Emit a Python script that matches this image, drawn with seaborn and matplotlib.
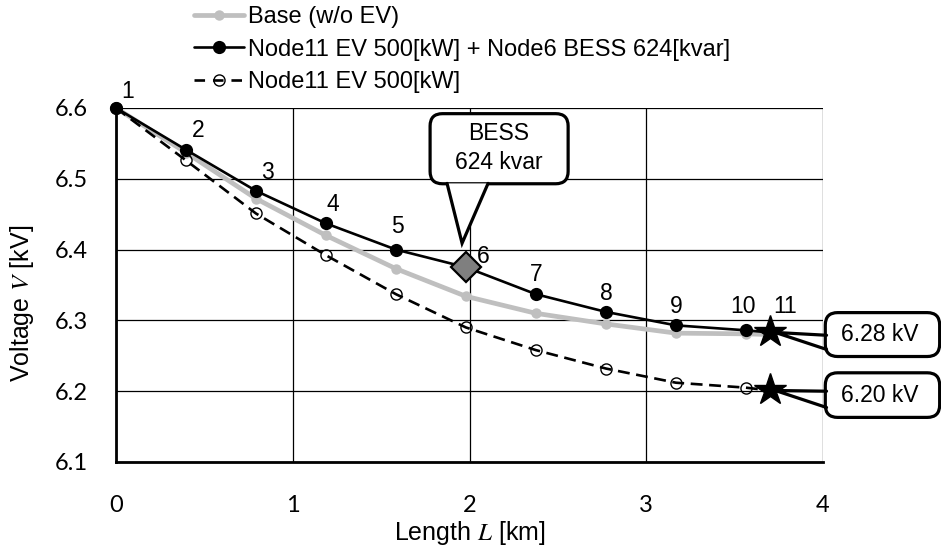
import matplotlib
matplotlib.use("Agg")
import matplotlib.pyplot as plt
import seaborn as sns
import numpy as np
from matplotlib.lines import Line2D
from matplotlib.patches import FancyBboxPatch, Polygon

# ---- data ----
node_ids = ["1", "2", "3", "4", "5", "6", "7", "8", "9", "10", "11"]
length_km = [0.0, 0.396, 0.792, 1.188, 1.584, 1.98, 2.376, 2.772, 3.168, 3.564, 3.70]
v_base = [6.600, 6.537, 6.472, 6.420, 6.373, 6.334, 6.310, 6.295, 6.282, 6.281, 6.280]
v_bess = [6.600, 6.541, 6.483, 6.437, 6.400, 6.375, 6.337, 6.312, 6.293, 6.286, 6.283]
v_ev = [6.600, 6.526, 6.451, 6.392, 6.337, 6.290, 6.258, 6.232, 6.212, 6.205, 6.201]
series_labels = ["Base (w/o EV)", "Node11 EV 500[kW] + Node6 BESS 624[kvar]", "Node11 EV 500[kW]"]
bess_node = 5
ev_node = 10
x_ticks = [0, 1, 2, 3, 4]
y_ticks = [6.1, 6.2, 6.3, 6.4, 6.5, 6.6]
callout_bess = "BESS\n624 kvar"
callout_v1 = "6.28 kV"
callout_v2 = "6.20 kV"

sns.set_style("white")
plt.rcParams["font.family"] = ["Liberation Sans", "DejaVu Sans"]
plt.rcParams["mathtext.fontset"] = "stix"
for k in ["text.color", "axes.labelcolor", "xtick.color", "ytick.color"]:
    plt.rcParams[k] = "black"

W, H = 941, 549
fig = plt.figure(figsize=(W / 100, H / 100), dpi=100)
L, R, T, B = 116, 823, 108, 462
ax = fig.add_axes([L / W, 1 - B / H, (R - L) / W, (B - T) / H])

n = len(length_km)
circ_idx = [i for i in range(n) if i not in (ev_node,)]
bess_circ_idx = [i for i in range(n) if i not in (ev_node, bess_node)]

DASH = (0, (4.5, 2.5))
FS = 16.5

sns.lineplot(x=length_km, y=v_base, ax=ax, color="#bfbfbf", lw=3.4,
             marker="o", markersize=7.5, markeredgewidth=0, markevery=circ_idx,
             zorder=3, clip_on=False)
sns.lineplot(x=length_km, y=v_ev, ax=ax, color="black", lw=1.9, ls=DASH,
             marker="o", markersize=8, mfc="none", mec="black", markeredgewidth=1.0,
             markevery=circ_idx, zorder=4, clip_on=False)
sns.lineplot(x=length_km, y=v_bess, ax=ax, color="black", lw=1.9,
             marker="o", markersize=9.5, markeredgewidth=0, markevery=bess_circ_idx,
             zorder=5, clip_on=False)
# BESS diamond at node 6
ax.plot([length_km[bess_node]], [v_bess[bess_node]], marker="D", markersize=15,
        mfc="#7f7f7f", mec="black", mew=1.6, ls="none", zorder=6)
# stars at node 11
ax.plot([length_km[ev_node]] * 2, [v_bess[ev_node], v_ev[ev_node]], marker="*",
        markersize=24, color="black", ls="none", zorder=7, clip_on=False)

ax.set_xlim(0, 4)
ax.set_ylim(6.1, 6.6)
ax.set_xticks(x_ticks)
ax.set_yticks(y_ticks)
ax.set_xticklabels([str(t) for t in x_ticks], fontfamily="Lato", fontsize=17)
ax.set_yticklabels([f"{t:.1f}" for t in y_ticks], fontfamily="Lato", fontsize=17)
ax.tick_params(axis="y", length=0, pad=20, labelcolor="black")
ax.tick_params(axis="x", length=0, pad=24, labelcolor="black")
ax.grid(True, color="black", lw=0.9)
for s in ["top", "right"]:
    ax.spines[s].set_visible(False)
for s in ["left", "bottom"]:
    ax.spines[s].set_color("black")
    ax.spines[s].set_linewidth(2)
    ax.spines[s].set_zorder(2.5)

ax.set_xlabel(r"Length $L$ [km]", fontsize=18, color="black")
ax.set_ylabel(r"Voltage $V$ [kV]", fontsize=18, color="black")
ax.xaxis.set_label_coords((470 - L) / (R - L), -(519 - B) / (B - T))
ax.yaxis.set_label_coords(-(L - 36) / (R - L), (B - 303) / (B - T))

# node number labels (offsets in pixels relative to upper series points)
offsets = [(12, 16), (12, 19), (11, 18), (7, 19), (1, 23), (17, 11), (0, 20),
           (0, 18), (0, 19), (-3, 24), (15, 26)]
for i, lab in enumerate(node_ids):
    ax.annotate(lab, (length_km[i], v_bess[i]), xytext=offsets[i],
                textcoords="offset pixels", ha="center", va="center",
                fontsize=FS, zorder=8, annotation_clip=False, color="black")

asp = (1 / 708) / (1 / 176.75)

def rbox(x0, y0, x1, y1):
    p = FancyBboxPatch((x0, y0), x1 - x0, y1 - y0,
                       boxstyle="round,pad=0,rounding_size=0.07",
                       mutation_aspect=asp, fc="white", ec="black", lw=2.3,
                       zorder=9, clip_on=False, transform=ax.transData)
    ax.add_patch(p)

# BESS callout
rbox(1.777, 6.493, 2.558, 6.592)
tri = Polygon([(1.873, 6.4935), (1.958, 6.409), (2.105, 6.4935)], closed=True,
              fc="white", ec="none", zorder=10, clip_on=False)
ax.add_patch(tri)
ax.plot([1.873, 1.958, 2.105], [6.4935, 6.409, 6.4935], color="black", lw=2.3,
        zorder=10, clip_on=False, solid_joinstyle="miter")
ax.text((1.777 + 2.558) / 2, (6.493 + 6.592) / 2 + 0.001, callout_bess, ha="center",
        va="center", fontsize=FS, zorder=11, linespacing=1.35, color="black")

# voltage callouts
for (yc, txt, ya, yb, y0, y1) in [
    (v_bess[ev_node], callout_v1, 6.279, 6.259, 6.249, 6.311),
    (v_ev[ev_node], callout_v2, 6.200, 6.177, 6.163, 6.226),
]:
    rbox(4.013, y0, 4.66, y1)
    ax.plot([4.02, length_km[ev_node] + 0.03, 4.02], [ya, yc, yb], color="black",
            lw=2.3, zorder=10, clip_on=False)
    ax.text(4.013 + 0.31, (y0 + y1) / 2, txt, ha="center", va="center",
            fontsize=FS, zorder=11, color="black")

# legend
handles = [
    Line2D([], [], color="#bfbfbf", lw=3.4, marker="o", markersize=7.5, markeredgewidth=0),
    Line2D([], [], color="black", lw=1.9, marker="o", markersize=9.5, markeredgewidth=0),
    Line2D([], [], color="black", lw=1.9, ls=(0, (4, 3)), marker="o", markersize=8,
           mfc="none", mec="black", markeredgewidth=1.0),
]
fig.legend(handles, series_labels, loc="upper left", bbox_to_anchor=(194 / W, 1.0 - 6 / H),
           frameon=False, fontsize=17, handlelength=2.1, handletextpad=0.2,
           labelspacing=0.45, borderaxespad=0, borderpad=0.0, labelcolor="black")

fig.savefig("out.png", dpi=100)
